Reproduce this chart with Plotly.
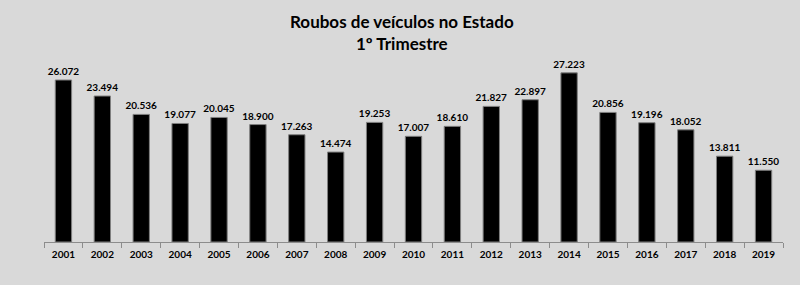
import plotly.graph_objects as go

years = ["2001", "2002", "2003", "2004", "2005", "2006", "2007", "2008", "2009", "2010",
         "2011", "2012", "2013", "2014", "2015", "2016", "2017", "2018", "2019"]
roubos = [26072, 23494, 20536, 19077, 20045, 18900, 17263, 14474, 19253, 17007,
          18610, 21827, 22897, 27223, 20856, 19196, 18052, 13811, 11550]
labels = [f"{v:,}".replace(",", ".") for v in roubos]

FONT = "Lato"
lab_font = dict(family=FONT, size=10, color="#000000", weight="bold")

fig = go.Figure(go.Bar(
    x=years, y=roubos, text=labels, textposition="outside",
    textfont=lab_font, outsidetextfont=lab_font, insidetextfont=lab_font,
    constraintext="none",
    cliponaxis=False,
    marker=dict(color="#000000", line=dict(color="#7f7f7f", width=1)),
))

fig.update_layout(
    width=800, height=285,
    paper_bgcolor="#d9d9d9", plot_bgcolor="#d9d9d9",
    margin=dict(l=44, r=17, t=60, b=43),
    bargap=0.58,
    showlegend=False,
    annotations=[dict(
        text="<b>Roubos de veículos no Estado<br>1º Trimestre</b>",
        xref="paper", yref="paper", x=0.485, y=1 + (60 - 9) / 182,
        xanchor="center", yanchor="top", showarrow=False,
        font=dict(family=FONT, size=17, color="#000000"),
    )],
    xaxis=dict(showline=True, linecolor="#8c8c8c", linewidth=1,
               ticks="outside", tickson="boundaries", ticklen=5, tickcolor="#8c8c8c",
               ticklabelstandoff=3,
               tickfont=dict(family=FONT, size=10, color="#000000", weight="bold"),
               showgrid=False),
    yaxis=dict(range=[0, 29293], visible=False, showgrid=False),
)

fig.write_html("out.html")
